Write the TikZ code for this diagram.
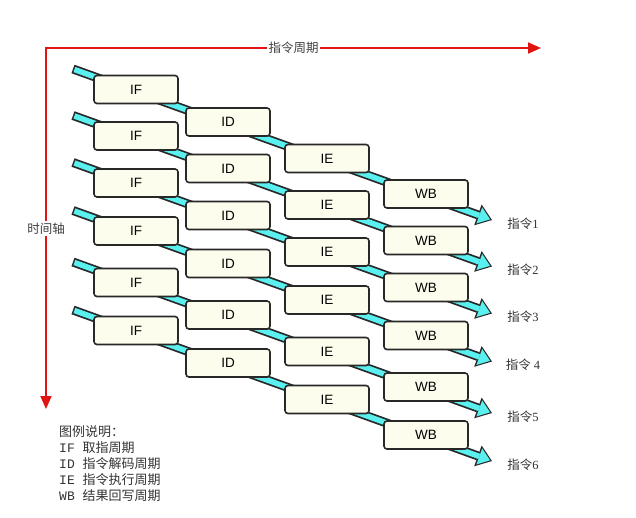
\documentclass[tikz,border=0pt]{standalone}
\usepackage{fontspec}
\setmainfont{Liberation Sans}
\newfontfamily\cjk{Noto Sans CJK SC}
\newfontfamily\numserif{Liberation Serif}
\newfontfamily\legendmono{Liberation Mono}
\usetikzlibrary{arrows.meta, positioning}
\definecolor{axisred}{RGB}{225,20,20}
\definecolor{flowcyan}{RGB}{90,240,240}
\definecolor{stagefill}{RGB}{253,253,238}
\definecolor{stageline}{RGB}{40,40,40}

\begin{document}
\begin{tikzpicture}[x=1pt, y=-1pt,
    stage/.style={rectangle, draw=stageline, line width=1.6pt, fill=stagefill, rounded corners=3pt,
                  minimum width=84pt, minimum height=28pt, inner sep=0pt, font=\fontsize{13.5}{15}\selectfont},
    flow/.style={draw=flowcyan, line width=5.5pt, shorten <=1.5pt, shorten >=2pt,
                 -{Triangle[length=11.5pt, width=17pt, line width=0pt]},
                 preaction={draw=stageline, line width=9pt, shorten <=0pt, shorten >=0pt,
                            -{Triangle[length=15pt, width=22pt, line width=0pt]}}},
    axis/.style={draw=axisred, line width=1.8pt, {Triangle[length=13pt, width=11pt]}-{Triangle[length=13pt, width=11pt]}},
    axislabel/.style={fill=white, inner sep=1.5pt, text=black!75, font=\cjk\fontsize{12.5}{15}\selectfont},
    tag/.style={font=\cjk\fontsize{12.5}{15}\selectfont, text=black!80}
]
    \useasboundingbox (0,0) rectangle (636,517);

    % time axis and instruction axis
    \coordinate (origin) at (46,48);
    \coordinate (xend) at (541,48);
    \coordinate (yend) at (46,409);
    \draw[axis] (yend) -- node[axislabel] {时间轴} (origin) -- node[axislabel] {指令周期} (xend);

    % instruction flows
    \coordinate (s1) at (73,69);    \coordinate (e1) at (492,220);
    \coordinate (s2) at (73,115.5); \coordinate (e2) at (492,266.5);
    \coordinate (s3) at (73,162.5); \coordinate (e3) at (492,313.5);
    \coordinate (s4) at (73,210.5); \coordinate (e4) at (492,361.5);
    \coordinate (s5) at (73,262);   \coordinate (e5) at (492,413);
    \coordinate (s6) at (73,310);   \coordinate (e6) at (492,461);
    \draw[flow] (s1) -- (e1);
    \draw[flow] (s2) -- (e2);
    \draw[flow] (s3) -- (e3);
    \draw[flow] (s4) -- (e4);
    \draw[flow] (s5) -- (e5);
    \draw[flow] (s6) -- (e6);

    % pipeline stages
    \node[stage] (if1) at (136,89.5) {IF};
    \node[stage] (id1) at (228,122) {ID};
    \node[stage] (ie1) at (327,158.5) {IE};
    \node[stage] (wb1) at (426,194) {WB};

    \node[stage] (if2) at (136,136) {IF};
    \node[stage] (id2) at (228,168.5) {ID};
    \node[stage] (ie2) at (327,205) {IE};
    \node[stage] (wb2) at (426,240.5) {WB};

    \node[stage] (if3) at (136,183) {IF};
    \node[stage] (id3) at (228,215.5) {ID};
    \node[stage] (ie3) at (327,252) {IE};
    \node[stage] (wb3) at (426,287.5) {WB};

    \node[stage] (if4) at (136,231) {IF};
    \node[stage] (id4) at (228,263.5) {ID};
    \node[stage] (ie4) at (327,300) {IE};
    \node[stage] (wb4) at (426,335.5) {WB};

    \node[stage] (if5) at (136,282.5) {IF};
    \node[stage] (id5) at (228,315) {ID};
    \node[stage] (ie5) at (327,351.5) {IE};
    \node[stage] (wb5) at (426,387) {WB};

    \node[stage] (if6) at (136,330.5) {IF};
    \node[stage] (id6) at (228,363) {ID};
    \node[stage] (ie6) at (327,399.5) {IE};
    \node[stage] (wb6) at (426,435) {WB};

    % instruction tags
    \node[tag] (tag1) at (523,224) {指令{\numserif 1}};
    \node[tag] (tag2) at (523,270) {指令{\numserif 2}};
    \node[tag] (tag3) at (523,317) {指令{\numserif 3}};
    \node[tag] (tag4) at (523,365) {指令 {\numserif 4}};
    \node[tag] (tag5) at (523,417) {指令{\numserif 5}};
    \node[tag] (tag6) at (523,465) {指令{\numserif 6}};

    % legend
    \node[anchor=north west, align=left, inner sep=0pt, text=black!80,
          font=\cjk\fontsize{13}{16}\selectfont] (legend) at (59,425)
        {图例说明：\\
         {\legendmono IF }取指周期\\
         {\legendmono ID }指令解码周期\\
         {\legendmono IE }指令执行周期\\
         {\legendmono WB }结果回写周期};
\end{tikzpicture}
\end{document}
